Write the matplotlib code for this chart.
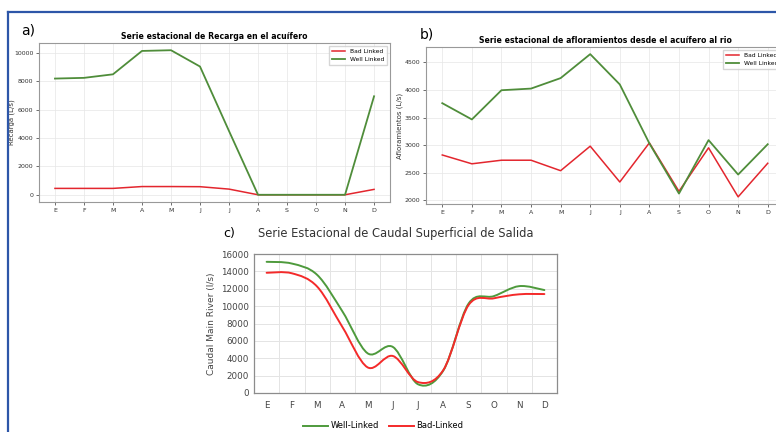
import matplotlib
matplotlib.use("Agg")
import matplotlib.pyplot as plt
from matplotlib.path import Path
from matplotlib.patches import PathPatch
from matplotlib.lines import Line2D
import numpy as np

# datos
meses = ['E', 'F', 'M', 'A', 'M', 'J', 'J', 'A', 'S', 'O', 'N', 'D']

recarga_bad = [450, 450, 450, 580, 580, 570, 400, 0, 0, 0, 0, 380]
recarga_well = [8200, 8250, 8500, 10150, 10200, 9050, 4500, 0, 0, 0, 0, 6950]

aflor_bad = [2820, 2660, 2725, 2725, 2535, 2980, 2330, 3040, 2160, 2950, 2060, 2670]
aflor_well = [3760, 3465, 3995, 4025, 4215, 4650, 4100, 3030, 2120, 3090, 2465, 3015]

caudal_well = [15100, 14900, 13600, 9400, 4570, 5300, 1000, 2600, 10300, 11150, 12300, 11850]
caudal_bad = [13840, 13780, 12250, 7600, 2950, 4260, 1250, 2650, 10130, 10900, 11360, 11390]

ROJO = '#e3262e'
VERDE = '#4f8d3a'

W, H = 776, 432
fig = plt.figure(figsize=(W / 100, H / 100), dpi=100)


def caja(l, t, r, b):
    return [l / W, 1 - b / H, (r - l) / W, (b - t) / H]


def panel_py(ax, bad, well, titulo, ylabel, xlab):
    x = np.arange(len(meses))
    ax.plot(x, bad, color=ROJO, lw=1.1, label='Bad Linked')
    ax.plot(x, well, color=VERDE, lw=1.3, label='Well Linked')
    ax.set_xticks(x)
    ax.set_xticklabels(meses)
    ax.grid(True, color='#e6e6e6', lw=0.5)
    ax.tick_params(labelsize=4.5, length=2, width=0.5, colors='#333333', pad=2)
    for s in ax.spines.values():
        s.set_color('#999999')
        s.set_linewidth(0.8)
    ax.set_title(titulo, fontsize=5.6, fontweight='bold', pad=3)
    ax.set_ylabel(ylabel, fontsize=5, color='#333333')
    ax.yaxis.set_label_coords(xlab, 0.5)
    ax.legend(loc='upper right', fontsize=4.3, frameon=True, handlelength=2.2,
              borderpad=0.5, labelspacing=0.4, edgecolor='#cccccc', fancybox=False)


ax1 = fig.add_axes(caja(39, 43, 390, 202))
panel_py(ax1, recarga_bad, recarga_well, 'Serie estacional de Recarga en el acuífero',
         'Recarga (L/s)', -0.068)

ax2 = fig.add_axes(caja(426, 47, 784, 204))
panel_py(ax2, aflor_bad, aflor_well, 'Serie estacional de afloramientos desde el acuífero al rio',
         'Afloramientos (L/s)', -0.064)
ax2.set_yticks([2000, 2500, 3000, 3500, 4000, 4500])


# curva suavizada estilo Excel (Catmull-Rom -> Bezier)
def curva(ax, y, color, lw, label):
    pts = np.column_stack([np.arange(len(y)), np.asarray(y, float)])
    verts = [pts[0]]
    codes = [Path.MOVETO]
    n = len(pts)
    for i in range(n - 1):
        p0 = pts[i - 1] if i > 0 else pts[i]
        p1 = pts[i]
        p2 = pts[i + 1]
        p3 = pts[i + 2] if i + 2 < n else pts[i + 1]
        c1 = p1 + (p2 - p0) / 6
        c2 = p2 - (p3 - p1) / 6
        verts += [c1, c2, p2]
        codes += [Path.CURVE4] * 3
    ax.add_patch(PathPatch(Path(verts, codes), fill=False, edgecolor=color, lw=lw,
                           zorder=3, capstyle='round', joinstyle='round'))
    return Line2D([], [], color=color, lw=lw, label=label)


ax3 = fig.add_axes(caja(254, 254, 557, 393))
h1 = curva(ax3, caudal_well, '#4e9a3c', 1.4, 'Well-Linked')
h2 = curva(ax3, caudal_bad, '#f42a2a', 1.4, 'Bad-Linked')
ax3.set_xlim(-0.5, 11.5)
ax3.set_ylim(0, 16000)
ax3.set_yticks(range(0, 16001, 2000))
ax3.set_xticks(range(12))
ax3.set_xticklabels(meses)
ax3.set_xticks(np.arange(0.5, 11, 1), minor=True)
ax3.grid(True, which='major', axis='y', color='#e4e4e4', lw=0.7)
ax3.grid(True, which='minor', axis='x', color='#e4e4e4', lw=0.7)
ax3.tick_params(which='both', length=0, labelsize=6.3, colors='#444444')
ax3.tick_params(axis='x', pad=6)
for s in ax3.spines.values():
    s.set_color('#8c8c8c')
    s.set_linewidth(0.9)
ax3.set_ylabel('Caudal Main River (l/s)', fontsize=6.5, color='#444444', labelpad=4)
fig.text(396 / W, 1 - 233 / H, 'Serie Estacional de Caudal Superficial de Salida',
         fontsize=8.3, color='#333333', ha='center', va='center')
fig.legend(handles=[h1, h2], loc='center', bbox_to_anchor=(383 / W, 1 - 426 / H), ncol=2,
           fontsize=6, frameon=False, handlelength=3, columnspacing=1.2, handletextpad=0.3)

# etiquetas de panel
fig.text(28 / W, 1 - 31 / H, 'a)', fontsize=10, ha='center', va='center')
fig.text(427 / W, 1 - 34 / H, 'b)', fontsize=10, ha='center', va='center')
fig.text(229 / W, 1 - 233 / H, 'c)', fontsize=9, ha='center', va='center')

# marco azul
fig.add_artist(Line2D([8 / W, 8 / W], [0, 1 - 12 / H], color='#2d56a8', lw=1.6))
fig.add_artist(Line2D([8 / W, 1], [1 - 12 / H, 1 - 12 / H], color='#2d56a8', lw=1.6))

fig.savefig('out.png', dpi=100)
